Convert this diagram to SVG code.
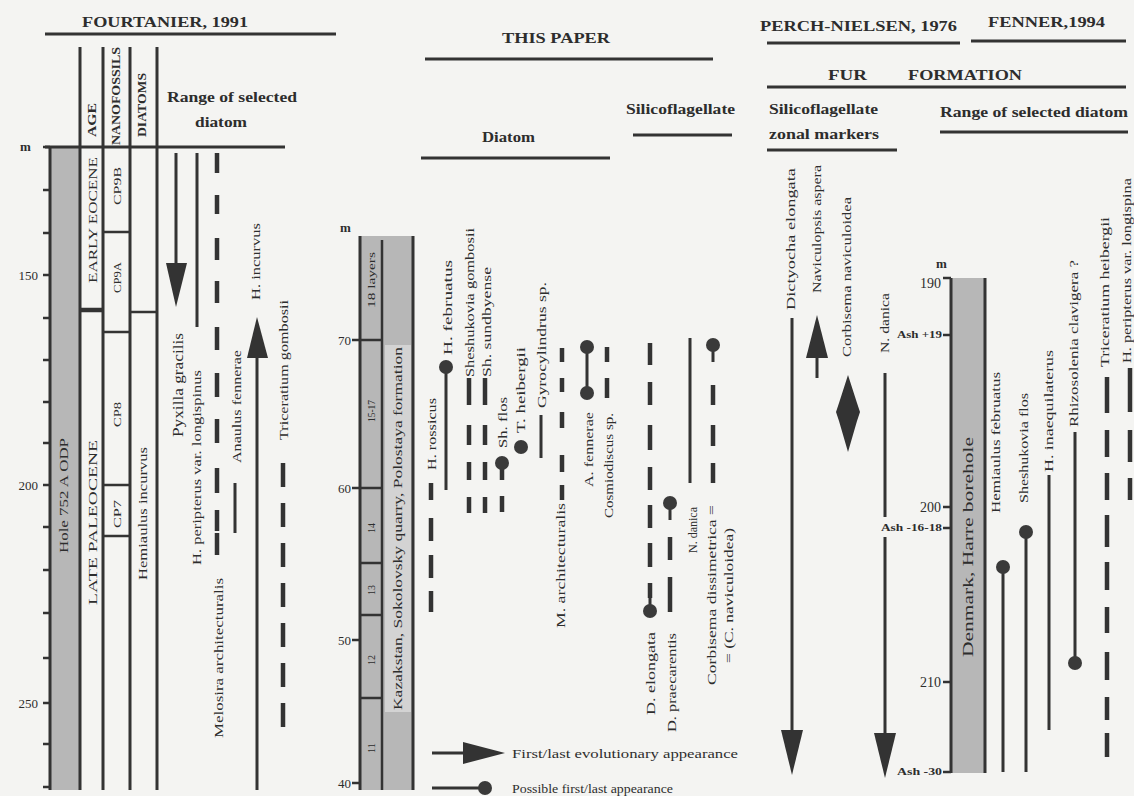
<svg xmlns="http://www.w3.org/2000/svg" width="1134" height="796" viewBox="0 0 1134 796">
<style>
.t{font-family:"Liberation Serif","Times New Roman",serif;fill:#2d2d2d}
.b{font-weight:bold}
.s{stroke:#333;stroke-width:3;fill:none}
.s2{stroke:#333;stroke-width:2.5;fill:none}
.d{stroke:#333;stroke-width:4.5;fill:none}
.bar{fill:#b7b7b7}
.lite{fill:#d3d3d3}
.ah{fill:#333}
.dot{fill:#3a3a3a}
</style>
<rect width="1134" height="796" fill="#f4f4f2"/>

<g id="fourtanier">
  <text class="t b" x="82" y="27" font-size="15" textLength="166" lengthAdjust="spacingAndGlyphs">FOURTANIER, 1991</text>
  <line class="s" x1="45" y1="34" x2="336" y2="34"/>
  <rect class="bar" x="51" y="147" width="29" height="643"/>
  <path class="s" d="M50 147V790 M80 47V790 M103 47V790 M130 47V790 M157 47V790"/>
  <line class="s" x1="45" y1="147" x2="285" y2="147"/>
  <path class="s2" d="M43 147H50 M43 190H50 M43 233H50 M43 275H50 M43 318H50 M43 360H50 M43 402H50 M43 443H50 M43 485H50 M43 527H50 M43 570H50 M43 613H50 M43 658H50 M43 703H50 M43 744H50 M43 787H50"/>
  <line x1="80" y1="310" x2="103" y2="310" stroke="#333" stroke-width="4.5"/>
  <path class="s2" d="M103 232H130 M103 332H130 M103 485H130 M103 536H130 M130 312H157"/>
  <text class="t b" x="20" y="151" font-size="13">m</text>
  <text class="t" x="38" y="280" font-size="13" text-anchor="end">150</text>
  <text class="t" x="38" y="490" font-size="13" text-anchor="end">200</text>
  <text class="t" x="38" y="708" font-size="13" text-anchor="end">250</text>
  <text class="t b" x="167" y="102" font-size="14" textLength="130" lengthAdjust="spacingAndGlyphs">Range of selected</text>
  <text class="t b" x="195" y="127" font-size="14" textLength="52" lengthAdjust="spacingAndGlyphs">diatom</text>
  <text class="t b" font-size="12" transform="translate(96,137) rotate(-90)" textLength="34" lengthAdjust="spacingAndGlyphs">AGE</text>
  <text class="t b" font-size="12" transform="translate(120,145) rotate(-90)" textLength="98" lengthAdjust="spacingAndGlyphs">NANOFOSSILS</text>
  <text class="t b" font-size="12" transform="translate(146,137) rotate(-90)" textLength="64" lengthAdjust="spacingAndGlyphs">DIATOMS</text>
  <text class="t" font-size="13" transform="translate(97,283) rotate(-90)" textLength="126" lengthAdjust="spacingAndGlyphs">EARLY EOCENE</text>
  <text class="t" font-size="13" transform="translate(97,605) rotate(-90)" textLength="165" lengthAdjust="spacingAndGlyphs">LATE PALEOCENE</text>
  <text class="t" font-size="10" transform="translate(120.5,205) rotate(-90)" textLength="38" lengthAdjust="spacingAndGlyphs">CP9B</text>
  <text class="t" font-size="10" transform="translate(120.5,293) rotate(-90)" textLength="31" lengthAdjust="spacingAndGlyphs">CP9A</text>
  <text class="t" font-size="10" transform="translate(120.5,427) rotate(-90)" textLength="25" lengthAdjust="spacingAndGlyphs">CP8</text>
  <text class="t" font-size="10" transform="translate(120.5,528) rotate(-90)" textLength="28" lengthAdjust="spacingAndGlyphs">CP7</text>
  <text class="t" font-size="13" transform="translate(146.5,580) rotate(-90)" textLength="133" lengthAdjust="spacingAndGlyphs">Hemiaulus incurvus</text>
  <text class="t" font-size="13" transform="translate(67.5,553) rotate(-90)" textLength="115" lengthAdjust="spacingAndGlyphs">Hole 752 A  ODP</text>
</g>

<g id="fourtanier-ranges">
  <line class="s" x1="176" y1="153" x2="176" y2="265"/>
  <polygon class="ah" points="166,263 187,263 176,307"/>
  <text class="t" font-size="14" transform="translate(183,437) rotate(-90)" textLength="104" lengthAdjust="spacingAndGlyphs">Pyxilla gracilis</text>
  <line class="s" x1="197" y1="153" x2="197" y2="327"/>
  <text class="t" font-size="13" transform="translate(200.5,565) rotate(-90)" textLength="195" lengthAdjust="spacingAndGlyphs">H. peripterus var. longispinus</text>
  <path class="d" d="M217 153V173 M217 195V214 M217 238V260 M217 281V303 M217 327V350 M217 373V397 M217 419V443 M217 468V493 M217 510V531 M217 533V555"/>
  <text class="t" font-size="13" transform="translate(222.5,738) rotate(-90)" textLength="160" lengthAdjust="spacingAndGlyphs">Melosira architecturalis</text>
  <line class="s" x1="235" y1="483" x2="235" y2="533"/>
  <text class="t" font-size="13" transform="translate(240.5,463) rotate(-90)" textLength="113" lengthAdjust="spacingAndGlyphs">Anaulus fennerae</text>
  <line class="s" x1="257" y1="356" x2="257" y2="790"/>
  <polygon class="ah" points="247,358 268,358 257,317"/>
  <text class="t" font-size="13" transform="translate(259.5,300) rotate(-90)" textLength="77" lengthAdjust="spacingAndGlyphs">H. incurvus</text>
  <path class="d" d="M283 463V487 M283 503V527 M283 543V567 M283 583V607 M283 623V647 M283 663V687 M283 703V727"/>
  <text class="t" font-size="13" transform="translate(287.5,440) rotate(-90)" textLength="140" lengthAdjust="spacingAndGlyphs">Triceratium gombosii</text>
</g>

<g id="this-paper">
  <text class="t b" x="502" y="43" font-size="14" textLength="108" lengthAdjust="spacingAndGlyphs">THIS PAPER</text>
  <line class="s" x1="425" y1="59" x2="713" y2="59"/>
  <text class="t b" x="482" y="142" font-size="14" textLength="53" lengthAdjust="spacingAndGlyphs">Diatom</text>
  <line class="s" x1="421" y1="158" x2="610" y2="158"/>
  <text class="t b" x="626" y="114" font-size="14" textLength="109" lengthAdjust="spacingAndGlyphs">Silicoflagellate</text>
  <line class="s" x1="633" y1="135" x2="732" y2="135"/>
</g>

<g id="kazakstan-column">
  <rect class="bar" x="360" y="236" width="53" height="554"/>
  <rect class="lite" x="385" y="345" width="26" height="367"/>
  <path class="s" d="M360 236V790 M413 236V790"/>
  <path class="s2" d="M382 240V790 M360 340H382 M360 488H382 M360 563H382 M360 615H382 M360 698H382 M352 340H360 M352 488H360 M352 640H360 M352 783H360"/>
  <text class="t b" x="340" y="232" font-size="13">m</text>
  <text class="t" x="351" y="345" font-size="13" text-anchor="end">70</text>
  <text class="t" x="351" y="493" font-size="13" text-anchor="end">60</text>
  <text class="t" x="351" y="645" font-size="13" text-anchor="end">50</text>
  <text class="t" x="351" y="788" font-size="13" text-anchor="end">40</text>
  <text class="t" font-size="10" transform="translate(374.5,308) rotate(-90)" textLength="56" lengthAdjust="spacingAndGlyphs">18 layers</text>
  <text class="t" font-size="10" transform="translate(374.5,422) rotate(-90)" textLength="22" lengthAdjust="spacingAndGlyphs">15-17</text>
  <text class="t" font-size="10" transform="translate(374.5,533) rotate(-90)">14</text>
  <text class="t" font-size="10" transform="translate(374.5,595) rotate(-90)">13</text>
  <text class="t" font-size="10" transform="translate(374.5,665) rotate(-90)">12</text>
  <text class="t" font-size="10" transform="translate(374.5,753) rotate(-90)">11</text>
  <text class="t" font-size="13" transform="translate(401.5,710) rotate(-90)" textLength="363" lengthAdjust="spacingAndGlyphs">Kazakstan, Sokolovsky quarry, Polostaya formation</text>
</g>

<g id="diatom-ranges">
  <path class="d" d="M431 483V500 M431 518V541 M431 555V578 M431 591V612"/>
  <text class="t" font-size="13" transform="translate(435.5,470) rotate(-90)" textLength="72" lengthAdjust="spacingAndGlyphs">H. rossicus</text>
  <line class="s" x1="446" y1="367" x2="446" y2="490"/>
  <circle class="dot" cx="446" cy="367" r="7"/>
  <text class="t" font-size="13" transform="translate(451.5,355) rotate(-90)" textLength="95" lengthAdjust="spacingAndGlyphs">H. februatus</text>
  <path class="d" d="M469 378V405 M469 425V445 M469 462V480 M469 497V513"/>
  <text class="t" font-size="13" transform="translate(473.5,377) rotate(-90)" textLength="149" lengthAdjust="spacingAndGlyphs">Sheshukovia  gombosii</text>
  <path class="d" d="M485 378V405 M485 425V445 M485 462V480 M485 497V513"/>
  <text class="t" font-size="13" transform="translate(490.5,377) rotate(-90)" textLength="110" lengthAdjust="spacingAndGlyphs">Sh.   sundbyense</text>
  <path class="d" d="M502 463V480 M502 496V512"/>
  <circle class="dot" cx="502" cy="463" r="7"/>
  <text class="t" font-size="13" transform="translate(506.5,448) rotate(-90)" textLength="51" lengthAdjust="spacingAndGlyphs">Sh. flos</text>
  <circle class="dot" cx="521" cy="447" r="7"/>
  <text class="t" font-size="13" transform="translate(524.5,433) rotate(-90)" textLength="86" lengthAdjust="spacingAndGlyphs">T. heibergii</text>
  <line class="s" x1="541" y1="415" x2="541" y2="458"/>
  <text class="t" font-size="13" transform="translate(545.5,408) rotate(-90)" textLength="126" lengthAdjust="spacingAndGlyphs">Gyrocylindrus sp.</text>
  <path class="d" d="M562 348V362 M562 378V392 M562 412V428 M562 455V472 M562 485V500"/>
  <text class="t" font-size="13" transform="translate(564.5,628) rotate(-90)" textLength="125" lengthAdjust="spacingAndGlyphs">M.  architecturalis</text>
  <line class="s" x1="587" y1="347" x2="587" y2="393"/>
  <circle class="dot" cx="587" cy="347" r="7"/>
  <circle class="dot" cx="587" cy="393" r="7"/>
  <text class="t" font-size="13" transform="translate(592.5,487) rotate(-90)" textLength="75" lengthAdjust="spacingAndGlyphs">A. fennerae</text>
  <path class="d" d="M607 347V362 M607 378V398"/>
  <text class="t" font-size="13" transform="translate(612.5,518) rotate(-90)" textLength="105" lengthAdjust="spacingAndGlyphs">Cosmiodiscus sp.</text>
</g>

<g id="silicoflagellate-ranges">
  <path class="d" d="M650 343V365 M650 382V405 M650 425V450 M650 467V490 M650 505V528 M650 543V567 M650 583V598"/>
  <line class="s" x1="650" y1="595" x2="650" y2="611"/>
  <circle class="dot" cx="650" cy="611" r="7"/>
  <text class="t" font-size="13" transform="translate(654.5,715) rotate(-90)" textLength="83" lengthAdjust="spacingAndGlyphs">D. elongata</text>
  <line class="s" x1="670" y1="503" x2="670" y2="520"/>
  <circle class="dot" cx="670" cy="503" r="7"/>
  <path class="d" d="M670 537V560 M670 577V612"/>
  <text class="t" font-size="13" transform="translate(675.5,732) rotate(-90)" textLength="99" lengthAdjust="spacingAndGlyphs">D. praecarentis</text>
  <line class="s" x1="690" y1="338" x2="690" y2="483"/>
  <text class="t" font-size="13" transform="translate(697,553) rotate(-90)" textLength="46" lengthAdjust="spacingAndGlyphs">N. danica</text>
  <line class="s" x1="713" y1="345" x2="713" y2="362"/>
  <circle class="dot" cx="713" cy="345" r="7"/>
  <path class="d" d="M713 385V405 M713 425V446 M713 463V483"/>
  <text class="t" font-size="13" transform="translate(715.5,685) rotate(-90)" textLength="180" lengthAdjust="spacingAndGlyphs">Corbisema dissimetrica =</text>
  <text class="t" font-size="13" transform="translate(732.5,663) rotate(-90)" textLength="135" lengthAdjust="spacingAndGlyphs">= (C.  naviculoidea)</text>
</g>

<g id="legend">
  <line class="s" x1="432" y1="753" x2="466" y2="753"/>
  <polygon class="ah" points="463,742 463,764 505,753"/>
  <text class="t" x="512" y="758" font-size="13" textLength="226" lengthAdjust="spacingAndGlyphs">First/last evolutionary appearance</text>
  <line class="s" x1="432" y1="788" x2="485" y2="788"/>
  <circle class="dot" cx="485" cy="788" r="7"/>
  <text class="t" x="512" y="793" font-size="13" textLength="161" lengthAdjust="spacingAndGlyphs">Possible first/last appearance</text>
</g>

<g id="fur-formation">
  <text class="t b" x="760" y="31" font-size="14" textLength="197" lengthAdjust="spacingAndGlyphs">PERCH-NIELSEN, 1976</text>
  <line class="s" x1="767" y1="43" x2="960" y2="43"/>
  <text class="t b" x="988" y="27" font-size="14" textLength="117" lengthAdjust="spacingAndGlyphs">FENNER,1994</text>
  <line class="s" x1="971" y1="41" x2="1126" y2="41"/>
  <text class="t b" x="828" y="80" font-size="14" textLength="39" lengthAdjust="spacingAndGlyphs">FUR</text>
  <text class="t b" x="908" y="80" font-size="14" textLength="114" lengthAdjust="spacingAndGlyphs">FORMATION</text>
  <line class="s" x1="767" y1="87" x2="1126" y2="87"/>
  <text class="t b" x="769" y="114" font-size="14" textLength="109" lengthAdjust="spacingAndGlyphs">Silicoflagellate</text>
  <text class="t b" x="769" y="139" font-size="14" textLength="110" lengthAdjust="spacingAndGlyphs">zonal markers</text>
  <line class="s" x1="767" y1="150" x2="897" y2="150"/>
  <text class="t b" x="940" y="117" font-size="14" textLength="188" lengthAdjust="spacingAndGlyphs">Range of selected diatom</text>
  <line class="s" x1="940" y1="132" x2="1128" y2="132"/>
</g>

<g id="fur-silicoflagellates">
  <line class="s" x1="792" y1="318" x2="792" y2="732"/>
  <polygon class="ah" points="781,730 803,730 792,775"/>
  <text class="t" font-size="13" transform="translate(794.5,310) rotate(-90)" textLength="142" lengthAdjust="spacingAndGlyphs">Dictyocha  elongata</text>
  <line class="s" x1="817" y1="356" x2="817" y2="378"/>
  <polygon class="ah" points="806,358 828,358 817,315"/>
  <text class="t" font-size="13" transform="translate(820.5,293) rotate(-90)" textLength="128" lengthAdjust="spacingAndGlyphs">Naviculopsis aspera</text>
  <polygon class="ah" points="848,375 857,403 860,412 857,421 848,452 839,421 836,412 839,403"/>
  <text class="t" font-size="13" transform="translate(850.5,357) rotate(-90)" textLength="160" lengthAdjust="spacingAndGlyphs">Corbisema naviculoidea</text>
  <path class="s" d="M885 373V517 M885 537V735"/>
  <polygon class="ah" points="874,733 896,733 885,778"/>
  <text class="t" font-size="13" transform="translate(888.5,353) rotate(-90)" textLength="60" lengthAdjust="spacingAndGlyphs">N. danica</text>
</g>

<g id="harre-column">
  <rect class="bar" x="952" y="278" width="32" height="495"/>
  <path class="s" d="M951 278V773 M985 278V773"/>
  <path class="s2" d="M943 278H951 M943 335H951 M943 507H951 M943 528H951 M943 682H951 M943 772H951"/>
  <text class="t b" x="936" y="268" font-size="13">m</text>
  <text class="t" x="941" y="288" font-size="14" text-anchor="end">190</text>
  <text class="t b" x="942" y="338" font-size="9.5" text-anchor="end" textLength="45" lengthAdjust="spacingAndGlyphs">Ash +19</text>
  <text class="t" x="941" y="512" font-size="14" text-anchor="end">200</text>
  <text class="t b" x="942" y="531" font-size="9.5" text-anchor="end" textLength="61" lengthAdjust="spacingAndGlyphs">Ash -16-18</text>
  <text class="t" x="941" y="687" font-size="14" text-anchor="end">210</text>
  <text class="t b" x="942" y="775" font-size="9.5" text-anchor="end" textLength="45" lengthAdjust="spacingAndGlyphs">Ash -30</text>
  <text class="t" font-size="14" transform="translate(973,657) rotate(-90)" textLength="220" lengthAdjust="spacingAndGlyphs">Denmark, Harre borehole</text>
</g>

<g id="fur-diatoms">
  <line class="s" x1="1003" y1="567" x2="1003" y2="772"/>
  <circle class="dot" cx="1003" cy="567" r="7"/>
  <text class="t" font-size="13" transform="translate(999.5,513) rotate(-90)" textLength="141" lengthAdjust="spacingAndGlyphs">Hemiaulus februatus</text>
  <line class="s" x1="1026" y1="532" x2="1026" y2="772"/>
  <circle class="dot" cx="1026" cy="532" r="7"/>
  <text class="t" font-size="13" transform="translate(1027.5,503) rotate(-90)" textLength="110" lengthAdjust="spacingAndGlyphs">Sheshukovia flos</text>
  <line class="s" x1="1049" y1="475" x2="1049" y2="730"/>
  <text class="t" font-size="13" transform="translate(1052.5,472) rotate(-90)" textLength="122" lengthAdjust="spacingAndGlyphs">H. inaequilaterus</text>
  <line class="s" x1="1075" y1="432" x2="1075" y2="663"/>
  <circle class="dot" cx="1075" cy="663" r="7"/>
  <text class="t" font-size="13" transform="translate(1077.5,427) rotate(-90)" textLength="167" lengthAdjust="spacingAndGlyphs">Rhizosolenia clavigera ?</text>
  <path class="d" d="M1107 377V413 M1107 430V457 M1107 473V500 M1107 515V547 M1107 562V590 M1107 607V633 M1107 652V680 M1107 697V720 M1107 733V757"/>
  <text class="t" font-size="13" transform="translate(1108.5,367) rotate(-90)" textLength="150" lengthAdjust="spacingAndGlyphs">Triceratium heibergii</text>
  <path class="d" d="M1130 368V412 M1130 430V462 M1130 478V500"/>
  <text class="t" font-size="12" transform="translate(1131,363) rotate(-90)" textLength="185" lengthAdjust="spacingAndGlyphs">H. peripterus var. longispina</text>
</g>

<g id="connectors"></g>
</svg>
